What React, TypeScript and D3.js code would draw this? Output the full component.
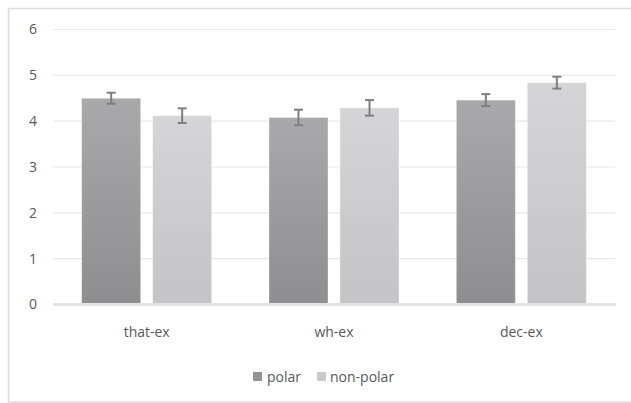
import React from "react";
import * as d3 from "d3";

const categories = ["that-ex", "wh-ex", "dec-ex"];
const seriesNames = ["polar", "non-polar"];
const polarValues = [4.5, 4.08, 4.46];
const nonPolarValues = [4.12, 4.29, 4.84];
const polarErrors = [0.12, 0.17, 0.13];
const nonPolarErrors = [0.16, 0.17, 0.13];
const yTicks = [0, 1, 2, 3, 4, 5, 6];

const W = 631;
const H = 403;
const plotLeft = 53;
const plotRight = 615;
const plotTop = 29.5;
const plotBottom = 304.5;
const font = "'Open Sans', 'DejaVu Sans', sans-serif";
const textColor = "#595959";

export default function App() {
  const x0 = d3.scaleBand<string>().domain(categories).range([plotLeft, plotRight]).paddingInner(0.306).paddingOuter(0.153);
  const x1 = d3.scaleBand<string>().domain(seriesNames).range([0, x0.bandwidth()]).paddingInner(0.169);
  const y = d3.scaleLinear().domain([0, 6]).range([plotBottom, plotTop]);

  const series = [
    { name: "polar", values: polarValues, errors: polarErrors, fill: "url(#gPolar)", legend: "#939395" },
    { name: "non-polar", values: nonPolarValues, errors: nonPolarErrors, fill: "url(#gNon)", legend: "#c9c9cb" },
  ];

  return (
    <svg width={W} height={H} style={{ position: "absolute", left: 0, top: 0 }} fontFamily={font}>
      <defs>
        <linearGradient id="gPolar" x1="0" y1="0" x2="0" y2="1">
          <stop offset="0" stopColor="#a9a9ab" />
          <stop offset="1" stopColor="#8e8e90" />
        </linearGradient>
        <linearGradient id="gNon" x1="0" y1="0" x2="0" y2="1">
          <stop offset="0" stopColor="#d5d5d7" />
          <stop offset="1" stopColor="#c4c4c6" />
        </linearGradient>
      </defs>
      <rect x={0} y={0} width={W} height={H} fill="#fff" />
      <rect x={8.5} y={8.5} width={W + 20} height={H - 9.5} fill="none" stroke="#dcdcdc" strokeWidth={1.5} />
      {yTicks.slice(1).map((t) => (
        <line key={t} x1={plotLeft} x2={plotRight} y1={y(t)} y2={y(t)} stroke="#e8e8e8" strokeWidth={1.2} />
      ))}
      {yTicks.map((t) => (
        <text key={t} x={33} y={y(t)} dy="0.35em" textAnchor="middle" fontSize={14} fill={textColor}>
          {t}
        </text>
      ))}
      {categories.map((c, i) => (
        <g key={c}>
          {series.map((s) => {
            const bx = (x0(c) as number) + (x1(s.name) as number);
            const bw = x1.bandwidth();
            const v = s.values[i];
            const e = s.errors[i];
            const cx = bx + bw / 2;
            return (
              <g key={s.name}>
                <rect x={bx} y={y(v)} width={bw} height={plotBottom - y(v)} fill={s.fill} stroke="#ffffff" strokeOpacity={0.35} strokeWidth={1} />
                <line x1={cx} x2={cx} y1={y(v + e)} y2={y(v - e)} stroke="#7f7f7f" strokeWidth={2} />
                <line x1={cx - 4.5} x2={cx + 4.5} y1={y(v + e)} y2={y(v + e)} stroke="#7f7f7f" strokeWidth={2} />
                <line x1={cx - 4.5} x2={cx + 4.5} y1={y(v - e)} y2={y(v - e)} stroke="#7f7f7f" strokeWidth={2} />
              </g>
            );
          })}
          <text x={(x0(c) as number) + x0.bandwidth() / 2} y={337} textAnchor="middle" fontSize={14} fill={textColor}>
            {c}
          </text>
        </g>
      ))}
      <line x1={plotLeft} x2={plotRight + 1} y1={plotBottom} y2={plotBottom} stroke="#e3e3e3" strokeWidth={3} />
      <g>
        <rect x={253} y={372} width={9} height={9} fill={series[0].legend} />
        <text x={267} y={377} dy="0.35em" fontSize={14} fill={textColor}>polar</text>
        <rect x={317} y={372} width={9} height={9} fill={series[1].legend} />
        <text x={330} y={377} dy="0.35em" fontSize={14} fill={textColor}>non-polar</text>
      </g>
    </svg>
  );
}
